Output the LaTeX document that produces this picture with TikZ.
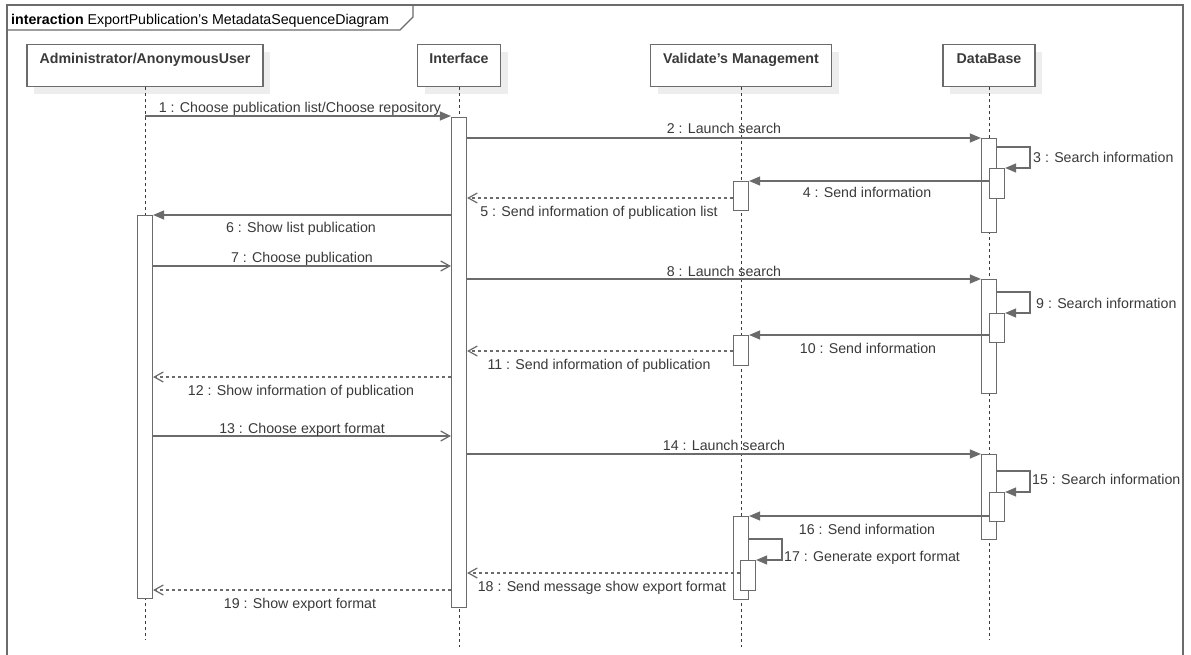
\documentclass[tikz,border=0pt]{standalone}
\usepackage{fontspec}
\setmainfont{Liberation Sans}
\usetikzlibrary{arrows.meta,positioning,calc,shadows}
\definecolor{ink}{HTML}{3A3A3A}
\definecolor{wire}{HTML}{6B6B6B}
\definecolor{shade}{HTML}{EDEDED}
\newcommand\umlfont{\fontsize{14.2pt}{17pt}\selectfont}
\tikzset{
  head/.style={draw=wire,fill=white,line width=1.2pt,anchor=north,minimum height=42pt,
               inner ysep=4pt,text height=15pt,text depth=19pt,font=\umlfont\bfseries,text=ink,
               drop shadow={shadow xshift=7pt,shadow yshift=-7pt,fill=shade,opacity=1}},
  life/.style={draw=ink,line width=1pt,dash pattern=on 3pt off 3pt},
  bar/.style={draw=wire,fill=white,line width=1.2pt,minimum width=15pt,anchor=north,inner sep=0pt},
  msg/.style={-{Triangle[length=11pt,width=9pt]},draw=wire,line width=1.2pt},
  call/.style={-{Straight Barb[length=9pt,width=10pt]},draw=wire,line width=1.2pt},
  reply/.style={-{Straight Barb[length=9pt,width=10pt]},draw=wire,line width=1.2pt,
                dash pattern=on 3pt off 3pt},
  lbl/.style={font=\umlfont,text=ink,inner sep=0pt,anchor=base},
  frame/.style={draw=wire,line width=1.2pt},
}
\begin{document}
\begin{tikzpicture}[x=1pt,y=-1pt]
  \fill[white] (0,0) rectangle (1191,655);
  \useasboundingbox (0,0) rectangle (1191,655);
  % frame and its tab
  \draw[frame] (7,655) -- (7,5) -- (1183,5) -- (1183,655);
  \draw[frame] (7,30) -- (400,30) -- (413,17) -- (413,5);
  \node[lbl,anchor=base west,text=black] (ttl) at (11,25)
    {\textbf{interaction} ExportPublication's MetadataSequenceDiagram};

  % lifeline heads
  \node[head,minimum width=236pt] (admin) at (145,44) {Administrator/AnonymousUser};
  \node[head,minimum width=83pt] (iface) at (459,44) {Interface};
  \node[head,minimum width=181pt] (valid) at (741,44) {Validate's Management};
  \node[head,minimum width=92pt] (dbase) at (989,44) {DataBase};

  % lifelines
  \coordinate (aend) at (145,640);
  \coordinate (iend) at (459,647);
  \coordinate (vend) at (741,647);
  \coordinate (dend) at (989,640);
  \draw[life] (admin.south) -- (aend);
  \draw[life] (iface.south) -- (iend);
  \draw[life] (valid.south) -- (vend);
  \draw[life] (dbase.south) -- (dend);

  % activation bars
  \node[bar,minimum height=383pt] (aact) at (145,215) {};
  \node[bar,minimum height=490pt] (iact) at (459,117) {};
  \node[bar,minimum height=94pt]  (db1)  at (989,138) {};
  \node[bar,minimum height=30pt]  (db1n) at (997,168) {};
  \node[bar,minimum height=29pt]  (v1)   at (741,181) {};
  \node[bar,minimum height=114pt] (db2)  at (989,279) {};
  \node[bar,minimum height=29pt]  (db2n) at (997,313) {};
  \node[bar,minimum height=30pt]  (v2)   at (741,335) {};
  \node[bar,minimum height=85pt]  (db3)  at (989,454) {};
  \node[bar,minimum height=29pt]  (db3n) at (997,492) {};
  \node[bar,minimum height=83pt]  (v3)   at (741,516) {};
  \node[bar,minimum height=30pt]  (v3n)  at (748,560) {};

  % messages
  \draw[msg] (admin.south |- 0,116) -- (iact.west |- 0,116);
  \node[lbl] (l1) at (300,113) {1 : Choose publication list/Choose repository};
  \draw[msg] (iact.east |- 0,138) -- (db1.north west);
  \node[lbl] (l2) at (724,134) {2 : Launch search};
  \draw[msg] (db1.east |- 0,147) -| (1030,168) -- (db1n.north east);
  \node[lbl,anchor=base west] (l3) at (1033,163) {3 : Search information};
  \draw[msg] (db1n.west |- 0,181) -- (v1.north east);
  \node[lbl] (l4) at (867,198) {4 : Send information};
  \draw[reply] (v1.west |- 0,198) -- (iact.east |- 0,198);
  \node[lbl] (l5) at (599,216) {5 : Send information of publication list};
  \draw[msg] (iact.west |- 0,215) -- (aact.north east);
  \node[lbl] (l6) at (301,233) {6 : Show list publication};
  \draw[call] (aact.east |- 0,266) -- (iact.west |- 0,266);
  \node[lbl] (l7) at (302,262) {7 : Choose publication};
  \draw[msg] (iact.east |- 0,279) -- (db2.north west);
  \node[lbl] (l8) at (724,276) {8 : Launch search};
  \draw[msg] (db2.east |- 0,292) -| (1030,313) -- (db2n.north east);
  \node[lbl,anchor=base west] (l9) at (1036,308) {9 : Search information};
  \draw[msg] (db2n.west |- 0,335) -- (v2.north east);
  \node[lbl] (l10) at (868,353) {10 : Send information};
  \draw[reply] (v2.west |- 0,351) -- (iact.east |- 0,351);
  \node[lbl] (l11) at (599,369) {11 : Send information of publication};
  \draw[reply] (iact.west |- 0,377) -- (aact.east |- 0,377);
  \node[lbl] (l12) at (301,395) {12 : Show information of publication};
  \draw[call] (aact.east |- 0,436) -- (iact.west |- 0,436);
  \node[lbl] (l13) at (302,433) {13 : Choose export format};
  \draw[msg] (iact.east |- 0,454) -- (db3.north west);
  \node[lbl] (l14) at (724,450) {14 : Launch search};
  \draw[msg] (db3.east |- 0,471) -| (1030,492) -- (db3n.north east);
  \node[lbl,anchor=base west] (l15) at (1032,484) {15 : Search information};
  \draw[msg] (db3n.west |- 0,516) -- (v3.north east);
  \node[lbl] (l16) at (867,534) {16 : Send information};
  \draw[msg] (v3.east |- 0,539) -| (782,560) -- (v3n.north east);
  \node[lbl,anchor=base west] (l17) at (784,561) {17 : Generate export format};
  \draw[reply] (v3n.west |- 0,573) -- (iact.east |- 0,573);
  \node[lbl] (l18) at (602,591) {18 : Send message show export format};
  \draw[reply] (iact.west |- 0,590) -- (aact.east |- 0,590);
  \node[lbl] (l19) at (300,608) {19 : Show export format};
\end{tikzpicture}
\end{document}
